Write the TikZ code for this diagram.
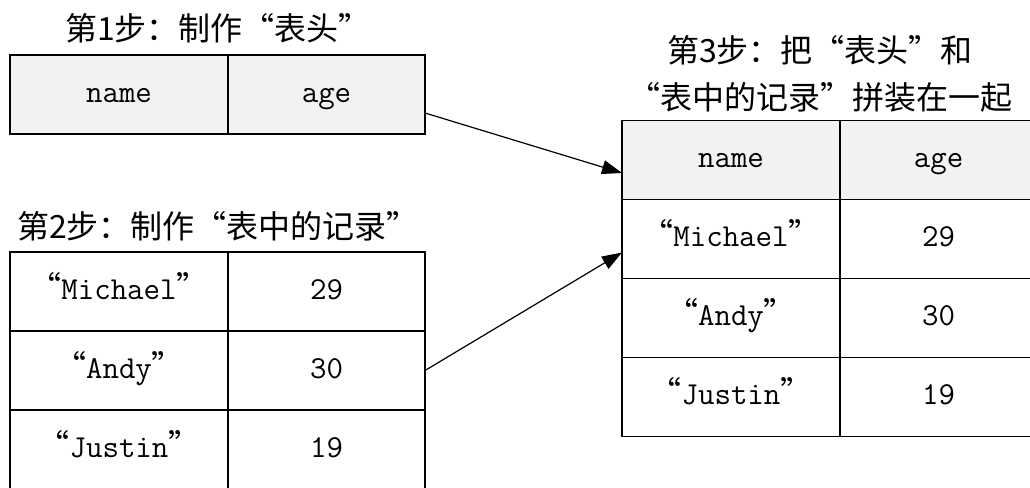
\documentclass[tikz,border=0pt]{standalone}
\usepackage{fontspec}
\newfontfamily\cjk{Noto Sans CJK SC}
\usetikzlibrary{positioning}
\usetikzlibrary{arrows.meta}
\definecolor{headgray}{HTML}{F2F2F2}
\newcommand{\qname}[1]{{\cjk “}#1{\cjk ”}}

\begin{document}
\begin{tikzpicture}
[x = 1pt, y = -1pt, 
node distance = 0pt, 
cell/.style = {rectangle, draw, line width = 1.5pt, outer sep = 0pt, inner sep = 0pt, minimum height = 79pt, text height = 22pt, text depth = 7pt, font = \ttfamily\fontsize{32}{36}\selectfont}, 
wide/.style = {cell, minimum width = 218pt}, 
narrow/.style = {cell, minimum width = 197pt}, 
head/.style = {fill = headgray}, 
title/.style = {align = center, font = \cjk\fontsize{32}{47}\selectfont}, 
post/.style = {-{Triangle[length = 20pt, width = 14pt]}, line width = 1.2pt}]

\useasboundingbox (0, 0) rectangle (1030, 487);

% step 1: the header
\node[title] (step1) at (218, 28) {第1步：制作“表头”};
\node[wide, head] (name1) at (119, 94.5) {name};
\node[narrow, head, right = of name1] (age1) {age};

% step 2: the records
\node[title] (step2) at (218, 226) {第2步：制作“表中的记录”};
\node[wide] (michael2) at (119, 291.5) {\qname{Michael}};
\node[narrow, right = of michael2] (age29b) {29};
\node[wide, below = of michael2] (andy2) {\qname{Andy}};
\node[narrow, right = of andy2] (age30b) {30};
\node[wide, below = of andy2] (justin2) {\qname{Justin}};
\node[narrow, right = of justin2] (age19b) {19};

% step 3: header and records together
\node[title] (step3) at (820, 74) {第3步：把“表头”和\\“表中的记录”拼装在一起};
\node[wide, head] (name3) at (731, 160) {name};
\node[narrow, head, right = of name3] (age3) {age};
\node[wide, below = of name3] (michael3) {\qname{Michael}};
\node[narrow, right = of michael3] (age29c) {29};
\node[wide, below = of michael3] (andy3) {\qname{Andy}};
\node[narrow, right = of andy3] (age30c) {30};
\node[wide, below = of andy3] (justin3) {\qname{Justin}};
\node[narrow, right = of justin3] (age19c) {19};

\draw[post] ([yshift = -18.5pt]age1.east) -- ([yshift = -13pt]name3.west);
\draw[post] (age30b.east) -- ([yshift = -13.5pt]michael3.west);
\end{tikzpicture}
\end{document}
